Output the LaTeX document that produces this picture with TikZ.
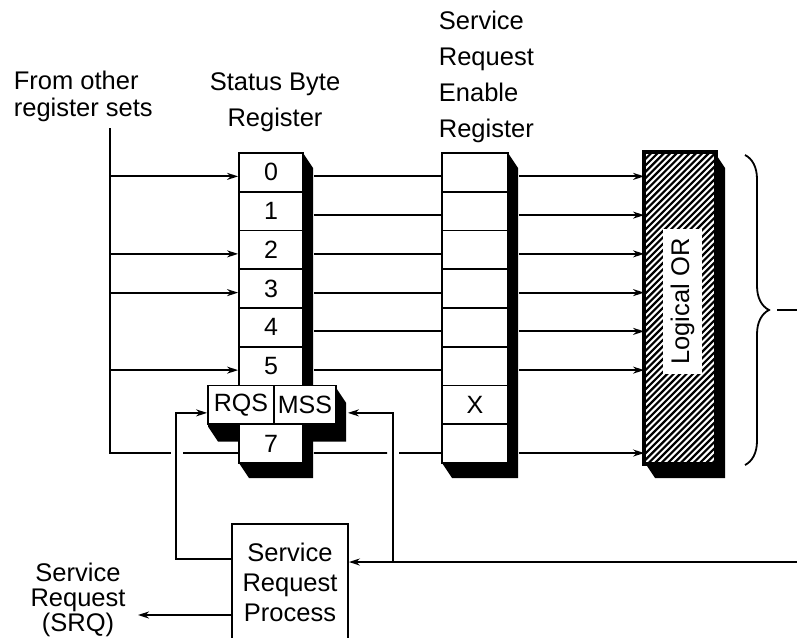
\documentclass[tikz,border=0pt]{standalone}
\usepackage{fontspec}
\setmainfont{Liberation Sans}
\usetikzlibrary{arrows.meta,calc,decorations.pathreplacing}

\begin{document}
\begin{tikzpicture}[x=1pt,y=-1pt,line width=1.8pt,
  txt/.style={inner sep=0pt,font=\fontsize{25.5}{#1}\selectfont},
  txt/.default=30,
  cell/.style={draw,fill=white,minimum height=38.75pt,inner sep=0pt,font=\fontsize{25}{28}\selectfont},
  feed/.style={-{Stealth[length=11pt,width=7pt]}},
  shade/.style={fill=black,draw=none}]
\definecolor{fillColor}{RGB}{255,255,255}
\path[use as bounding box,fill=fillColor] (0,0) rectangle (797,637);
\begin{scope}
\path[clip] (0,0) rectangle (797,637);

% shadows
\path[shade] (239,153) -- (303,153) -- (313,168) -- (313,478) -- (249,478) -- (239,463) -- cycle;
\path[shade] (208,387.75) -- (336,387.75) -- (346,402.75) -- (346,441.5) -- (218,441.5) -- (208,426.5) -- cycle;
\path[shade] (442,153) -- (508,153) -- (518,168) -- (518,478) -- (452,478) -- (442,463) -- cycle;
\path[shade] (645,153) -- (715,153) -- (725,168) -- (725,478) -- (655,478) -- (645,463) -- cycle;

% status byte register
\foreach \i in {0,...,5}
  \node[cell,minimum width=64pt] (sb\i) at (271,{172.375+38.75*\i}) {\i};
\node[cell,minimum width=66pt] (rqs) at (241,404.875) {RQS};
\node[cell,minimum width=62pt] (mss) at (305,404.875) {MSS};
\node[cell,minimum width=64pt] (sb7) at (271,443.625) {7};

% service request enable register
\foreach \i/\t in {0/{},1/{},2/{},3/{},4/{},5/{},6/X,7/{}}
  \node[cell,minimum width=66pt] (se\i) at (475,{172.375+38.75*\i}) {\t};

% logical OR
\node[fill=white,minimum width=70pt,minimum height=310pt] (lor) at (680,308) {};
\begin{scope}
\clip (lor.north west) rectangle (lor.south east);
\foreach \k in {0,...,60}
  \draw[line width=2.2pt] ({335+6.4*\k},463) -- ++(310,-310);
\end{scope}
\draw[line width=3.5pt] (lor.north west) rectangle (lor.south east);
\node[txt,fill=white,rotate=90,inner xsep=9.5pt,inner ysep=8pt] (lortxt) at (682.5,301.5) {Logical OR};

% labels
\node[txt=27,anchor=north west,align=left] (from) at (13,70) {From other\\register sets};
\node[txt=36,anchor=north,align=center] (sbl) at (275,72) {Status Byte\\Register};
\node[txt=36,anchor=north west,align=left] (sel) at (438,10) {Service\\Request\\Enable\\Register};
\node[txt,draw,fill=white,align=center,minimum width=116pt,minimum height=116pt] (srp) at (290,582) {Service\\Request\\Process};
\node[txt=25,align=center] (srq) at (78,600) {Service\\Request\\(SRQ)};

% inputs
\coordinate (src) at (110,128);
\coordinate (bend) at (110,453);
\draw (src) -- (bend) -- (171,453);
\draw (183,453) -- (sb7.west |- bend);
\foreach \i in {0,2,3,5}
  \draw[feed] ($(src |- sb\i.west)+(0,4)$) -- ($(sb\i.west)+(0,4)$);
\foreach \i in {0,...,5}
  \draw ($(sb\i.east)+(10,4)$) -- ($(se\i.west)+(0,4)$);
\draw ($(sb7.east)+(10,9.4)$) -- (387,453);
\draw (399,453) -- ($(se7.west)+(0,9.4)$);
\foreach \i in {0,...,5}
  \draw[feed] ($(se\i.east)+(10,4)$) -- ($(lor.west |- se\i.west)+(0,4)$);
\draw[feed] ($(se7.east)+(10,9.4)$) -- ($(lor.west |- se7.west)+(0,9.4)$);

% feedback
\draw[feed] ($(srp.north west)+(0,36)$) -| ($(rqs.west)+(-31,8)$) -- ($(rqs.west)+(0,8)$);
\coordinate (loop) at (797,562);
\coordinate (tap) at (393,562);
\draw[feed] (loop) -- (srp.east |- loop);
\draw[feed] (tap) |- ($(mss.east)+(11,8)$);
\coordinate (srqtip) at (138,615);
\draw[feed] (srp.west |- srqtip) -- (srqtip);

% brace
\draw[decorate,decoration={brace,amplitude=24pt}] (745,155) -- (745,465);
\coordinate (ortip) at (777,310);
\coordinate (orout) at (797,310);
\draw (ortip) -- (orout);
\end{scope}
\end{tikzpicture}
\end{document}
